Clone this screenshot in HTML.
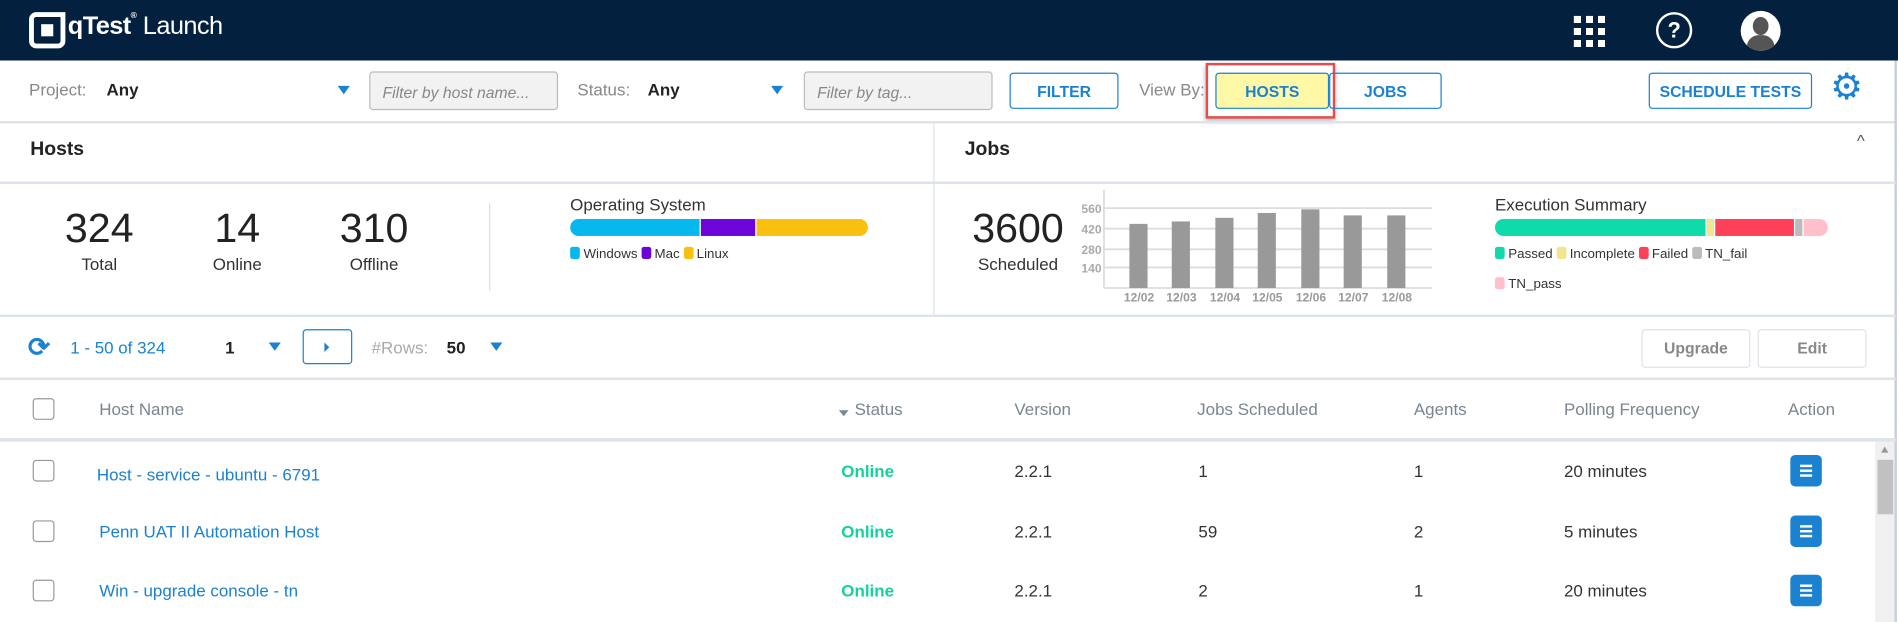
<!DOCTYPE html>
<html><head><meta charset="utf-8"><style>
*{margin:0;padding:0;box-sizing:border-box}
html,body{width:1898px;height:622px;overflow:hidden;background:#fff;font-family:"Liberation Sans",sans-serif}
#w{position:absolute;left:0;top:0;width:1568px;height:514px;transform:scale(1.2105,1.2101);transform-origin:0 0}
.a{position:absolute;white-space:nowrap}
.sep{position:absolute;left:0;width:1566px;height:2px;background:#dde3ea}
.tri{position:absolute;width:0;height:0;border-left:5px solid transparent;border-right:5px solid transparent;border-top:7px solid #1a82d0}
.btn{position:absolute;border:1px solid #1a82d0;border-radius:3px;color:#1a82d0;font-weight:bold;font-size:13px;display:flex;align-items:center;justify-content:center}
.inp{position:absolute;background:#f2f2f2;border:1px solid #bbb;border-radius:3px;color:#888;font-style:italic;font-size:13px;padding:9px 10px}
.g{color:#888;font-size:14px}
.k{color:#222;font-size:14px;font-weight:bold}
.cb{position:absolute;left:27px;width:18px;height:18px;border:1px solid #999;border-radius:3px}
.th{color:#7a8590;font-size:14px}
.td{color:#333;font-size:14px}
.lg{font-size:11px;color:#333}
.sw{display:inline-block;width:8px;height:10px;border-radius:2px;vertical-align:-1px;margin-right:3px}
.act{position:absolute;left:1479px;width:26px;height:26px;background:#1a82d0;border-radius:4px}
.act i{position:absolute;left:8px;width:10px;height:2px;background:#fff}
</style></head><body><div id="w">
<!-- header -->
<div class="a" style="left:0;top:0;width:1568px;height:50px;background:#03213f"></div>
<div class="a" style="left:24px;top:10px;width:30px;height:30px;border:4px solid #fff;border-radius:6px 0 6px 6px"></div>
<div class="a" style="left:34px;top:20px;width:10px;height:10px;background:#fff"></div>
<div class="a" style="left:56px;top:10px;color:#fff;font-size:21px;font-weight:bold;letter-spacing:-0.5px">qTest<span style="font-size:7px;vertical-align:top">®</span> <span style="font-weight:normal">Launch</span></div>
<div class="a" style="left:1300px;top:13px;width:26px;height:26px;background:repeating-linear-gradient(90deg,#fff 0 6px,transparent 6px 10px);-webkit-mask:repeating-linear-gradient(180deg,#000 0 6px,transparent 6px 10px)"></div>
<div class="a" style="left:1368px;top:10px;width:30px;height:30px;border:2px solid #fff;border-radius:50%;color:#fff;font-size:18px;font-weight:bold;text-align:center;line-height:26px">?</div>
<div class="a" style="left:1438px;top:9px;width:33px;height:33px;border-radius:50%;background:#fff;overflow:hidden"><div style="position:absolute;left:10px;top:5px;width:13px;height:15px;border-radius:50%;background:#555"></div><div style="position:absolute;left:5px;top:20px;width:23px;height:18px;border-radius:10px 10px 0 0;background:#555"></div></div>
<!-- filter row -->
<div class="a g" style="left:24px;top:66px">Project:</div>
<div class="a k" style="left:88px;top:66px">Any</div>
<div class="tri" style="left:279px;top:71px"></div>
<div class="inp" style="left:305px;top:59px;width:156px;height:32px">Filter by host name...</div>
<div class="a g" style="left:477px;top:66px">Status:</div>
<div class="a k" style="left:535px;top:66px">Any</div>
<div class="tri" style="left:637px;top:71px"></div>
<div class="inp" style="left:664px;top:59px;width:156px;height:32px">Filter by tag...</div>
<div class="btn" style="left:834px;top:60px;width:90px;height:30px">FILTER</div>
<div class="a g" style="left:941px;top:66px">View By:</div>
<div class="a" style="left:996px;top:52px;width:107px;height:46px;border:2px solid #e94a4a;box-shadow:0 2px 4px rgba(0,0,0,.3)"></div>
<div class="btn" style="left:1004px;top:60px;width:94px;height:30px;background:#fdf7a6">HOSTS</div>
<div class="btn" style="left:1098px;top:60px;width:93px;height:30px">JOBS</div>
<div class="btn" style="left:1362px;top:60px;width:135px;height:30px">SCHEDULE TESTS</div>
<div class="a" style="left:1512px;top:57px;color:#1a82d0;font-size:30px;line-height:32px">⚙</div>
<div class="sep" style="top:100px"></div>
<!-- hosts/jobs headers -->
<div class="a" style="left:25px;top:115px;font-size:16px;font-weight:bold;color:#222">Hosts</div>
<div class="a" style="left:797px;top:115px;font-size:16px;font-weight:bold;color:#222">Jobs</div>
<div class="a" style="left:1534px;top:108px;font-size:14px;color:#555">^</div>
<div class="a" style="left:771px;top:102px;width:1px;height:158px;background:#dde3ea"></div>
<div class="a" style="left:1565px;top:50px;width:2px;height:464px;background:#c8ced6"></div>
<div class="sep" style="top:150px"></div>
<!-- stats -->
<div class="a" style="left:42px;top:170px;width:80px;text-align:center;font-size:34px;color:#222">324</div>
<div class="a" style="left:42px;top:210px;width:80px;text-align:center;font-size:14px;color:#333">Total</div>
<div class="a" style="left:156px;top:170px;width:80px;text-align:center;font-size:34px;color:#222">14</div>
<div class="a" style="left:156px;top:210px;width:80px;text-align:center;font-size:14px;color:#333">Online</div>
<div class="a" style="left:269px;top:170px;width:80px;text-align:center;font-size:34px;color:#222">310</div>
<div class="a" style="left:269px;top:210px;width:80px;text-align:center;font-size:14px;color:#333">Offline</div>
<div class="a" style="left:404px;top:168px;width:1px;height:72px;background:#ddd"></div>
<div class="a" style="left:471px;top:161px;font-size:14px;color:#333">Operating System</div>
<div class="a" style="left:471px;top:181px;width:246px;height:14px;border-radius:7px;overflow:hidden;display:flex"><div style="width:107px;background:#05b9ef"></div><div style="width:1px;background:#fff"></div><div style="width:45px;background:#6e05d8"></div><div style="width:1px;background:#fff"></div><div style="flex:1;background:#f9c00e"></div></div>
<div class="a lg" style="left:471px;top:204px"><span class="sw" style="background:#05b9ef"></span>Windows <span class="sw" style="background:#6e05d8"></span>Mac <span class="sw" style="background:#f9c00e"></span>Linux</div>
<div class="a" style="left:796px;top:170px;width:90px;text-align:center;font-size:34px;color:#222">3600</div>
<div class="a" style="left:796px;top:210px;width:90px;text-align:center;font-size:14px;color:#333">Scheduled</div>
<svg class="a" style="left:890px;top:152px" width="310" height="108">
<g stroke="#ddd" stroke-width="1.5"><line x1="22" y1="20" x2="293" y2="20"/><line x1="22" y1="37" x2="293" y2="37"/><line x1="22" y1="54" x2="293" y2="54"/><line x1="22" y1="69" x2="293" y2="69"/><line x1="22" y1="86" x2="293" y2="86"/><line x1="22" y1="5" x2="22" y2="86"/></g>
<g fill="#aaa" font-size="10" font-weight="bold" font-family="Liberation Sans" text-anchor="end"><text x="20" y="24">560</text><text x="20" y="41">420</text><text x="20" y="58">280</text><text x="20" y="73">140</text></g>
<g fill="#999"><rect x="43" y="33" width="15" height="53"/><rect x="78" y="31" width="15" height="55"/><rect x="114" y="28" width="15" height="58"/><rect x="149" y="24" width="15" height="62"/><rect x="185" y="21" width="15" height="65"/><rect x="220" y="26" width="15" height="60"/><rect x="256" y="26" width="15" height="60"/></g>
<g fill="#999" font-size="10" font-weight="bold" font-family="Liberation Sans" text-anchor="middle"><text x="51" y="97">12/02</text><text x="86" y="97">12/03</text><text x="122" y="97">12/04</text><text x="157" y="97">12/05</text><text x="193" y="97">12/06</text><text x="228" y="97">12/07</text><text x="264" y="97">12/08</text></g>
</svg>
<div class="a" style="left:1235px;top:161px;font-size:14px;color:#333">Execution Summary</div>
<div class="a" style="left:1235px;top:181px;width:275px;height:14px;border-radius:7px;overflow:hidden;display:flex"><div style="width:174px;background:#0edbaa"></div><div style="width:1px;background:#fff"></div><div style="width:6px;background:#f0e68c"></div><div style="width:1px;background:#fff"></div><div style="width:65px;background:#fd4057"></div><div style="width:1px;background:#fff"></div><div style="width:6px;background:#bbb"></div><div style="width:1px;background:#fff"></div><div style="flex:1;background:#ffc0cb"></div></div>
<div class="a lg" style="left:1235px;top:204px"><span class="sw" style="background:#0edbaa"></span>Passed <span class="sw" style="background:#f0e68c"></span>Incomplete <span class="sw" style="background:#fd4057"></span>Failed <span class="sw" style="background:#bbb"></span>TN_fail</div>
<div class="a lg" style="left:1235px;top:229px"><span class="sw" style="background:#ffc0cb"></span>TN_pass</div>
<div class="sep" style="top:260px"></div>
<!-- pagination -->
<div class="a" style="left:23px;top:274px;font-size:22px;color:#1a82d0;font-weight:bold">⟳</div>
<div class="a" style="left:58px;top:279px;font-size:14px;color:#1a82d0">1 - 50 of 324</div>
<div class="a k" style="left:186px;top:279px">1</div>
<div class="tri" style="left:222px;top:283px"></div>
<div class="a" style="left:250px;top:272px;width:41px;height:29px;border:1px solid #1a82d0;border-radius:3px"></div>
<div class="a" style="left:268px;top:283px;border-top:4px solid transparent;border-bottom:4px solid transparent;border-left:4px solid #1a82d0"></div>
<div class="a g" style="left:307px;top:279px;color:#aaa">#Rows:</div>
<div class="a k" style="left:369px;top:279px">50</div>
<div class="tri" style="left:405px;top:283px"></div>
<div class="a" style="left:1356px;top:272px;width:90px;height:32px;border:1px solid #dde3ea;border-radius:3px;color:#888;font-size:13px;font-weight:bold;text-align:center;line-height:30px">Upgrade</div>
<div class="a" style="left:1452px;top:272px;width:90px;height:32px;border:1px solid #dde3ea;border-radius:3px;color:#888;font-size:13px;font-weight:bold;text-align:center;line-height:30px">Edit</div>
<div class="sep" style="top:312px"></div>
<!-- table header -->
<div class="cb" style="top:329px"></div>
<div class="a th" style="left:82px;top:330px">Host Name</div>
<div class="a" style="left:693px;top:339px;border-left:4px solid transparent;border-right:4px solid transparent;border-top:5px solid #7a8590"></div>
<div class="a th" style="left:706px;top:330px">Status</div>
<div class="a th" style="left:838px;top:330px">Version</div>
<div class="a th" style="left:989px;top:330px">Jobs Scheduled</div>
<div class="a th" style="left:1168px;top:330px">Agents</div>
<div class="a th" style="left:1292px;top:330px">Polling Frequency</div>
<div class="a th" style="left:1477px;top:330px">Action</div>
<div class="sep" style="top:362px;height:3px"></div>
<!-- rows -->
<div class="cb" style="top:380px"></div>
<div class="a" style="left:80px;top:384px;font-size:14px;color:#1a82d0">Host - service - ubuntu - 6791</div>
<div class="a" style="left:695px;top:381px;font-size:14px;color:#13d39a;font-weight:bold">Online</div>
<div class="a td" style="left:838px;top:381px">2.2.1</div><div class="a td" style="left:990px;top:381px">1</div><div class="a td" style="left:1168px;top:381px">1</div><div class="a td" style="left:1292px;top:381px">20 minutes</div>
<div class="act" style="top:376px"><i style="top:8px"></i><i style="top:12px"></i><i style="top:16px"></i></div>
<div class="cb" style="top:430px"></div>
<div class="a" style="left:82px;top:431px;font-size:14px;color:#1a82d0">Penn UAT II Automation Host</div>
<div class="a" style="left:695px;top:431px;font-size:14px;color:#13d39a;font-weight:bold">Online</div>
<div class="a td" style="left:838px;top:431px">2.2.1</div><div class="a td" style="left:990px;top:431px">59</div><div class="a td" style="left:1168px;top:431px">2</div><div class="a td" style="left:1292px;top:431px">5 minutes</div>
<div class="act" style="top:426px"><i style="top:8px"></i><i style="top:12px"></i><i style="top:16px"></i></div>
<div class="cb" style="top:479px"></div>
<div class="a" style="left:82px;top:480px;font-size:14px;color:#1a82d0">Win - upgrade console - tn</div>
<div class="a" style="left:695px;top:480px;font-size:14px;color:#13d39a;font-weight:bold">Online</div>
<div class="a td" style="left:838px;top:480px">2.2.1</div><div class="a td" style="left:990px;top:480px">2</div><div class="a td" style="left:1168px;top:480px">1</div><div class="a td" style="left:1292px;top:480px">20 minutes</div>
<div class="act" style="top:475px"><i style="top:8px"></i><i style="top:12px"></i><i style="top:16px"></i></div>
<!-- scrollbar -->
<div class="a" style="left:1549px;top:365px;width:16px;height:149px;background:#f0f0f0"></div>
<div class="a" style="left:1554px;top:369px;border-left:3px solid transparent;border-right:3px solid transparent;border-bottom:5px solid #999"></div>
<div class="a" style="left:1551px;top:380px;width:13px;height:45px;background:#c1c1c1"></div>
</div></body></html>
